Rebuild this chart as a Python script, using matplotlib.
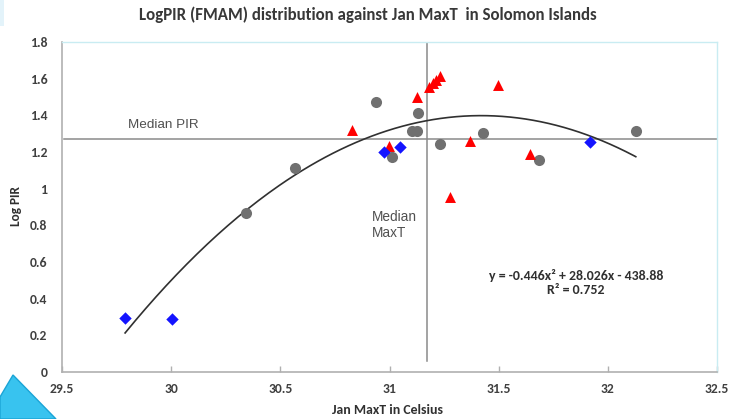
import numpy as np
import matplotlib
matplotlib.use("Agg")
import matplotlib.pyplot as plt
from matplotlib.patches import Polygon
from matplotlib import font_manager

# --- data -----------------------------------------------------------------
gray_x = [30.344, 30.569, 30.936, 31.012, 31.104, 31.124, 31.132, 31.231, 31.43, 31.685, 32.128]
gray_y = [0.867, 1.111, 1.475, 1.175, 1.315, 1.315, 1.41, 1.242, 1.306, 1.157, 1.315]

red_x = [30.826, 30.997, 31.127, 31.18, 31.197, 31.215, 31.231, 31.275, 31.368, 31.499, 31.642]
red_y = [1.32, 1.235, 1.50, 1.555, 1.575, 1.595, 1.615, 0.953, 1.262, 1.565, 1.19]

blue_x = [29.789, 30.005, 30.974, 31.046, 31.92]
blue_y = [0.295, 0.289, 1.202, 1.225, 1.255]

# quadratic trend: y = a x^2 + b x + c
trend_a, trend_b, trend_c = -0.446, 28.026, -438.88
r_squared = 0.752

median_pir = 1.27
median_maxt = 31.173

x_ticks = [29.5, 30, 30.5, 31, 31.5, 32, 32.5]
y_ticks = [0, 0.2, 0.4, 0.6, 0.8, 1, 1.2, 1.4, 1.6, 1.8]
y_tick_labels = ["0", "0.2", "0.4", "0.6", "0.8", "1", "1.2", "1.4", "1.6", "1.8"]

title = "LogPIR (FMAM) distribution against Jan MaxT  in Solomon Islands"
x_label = "Jan MaxT in Celsius"
y_label = "Log PIR"

# --- fonts ----------------------------------------------------------------
available = {f.name for f in font_manager.fontManager.ttflist}
narrow = next((f for f in ["Carlito", "Liberation Sans Narrow", "Open Sans", "Liberation Sans"]
               if f in available), "DejaVu Sans")
plain = "Liberation Sans" if "Liberation Sans" in available else "DejaVu Sans"

W, H = 729, 419
fig = plt.figure(figsize=(W / 100, H / 100), dpi=100)
fig.patch.set_facecolor("white")

L, R, T, B = 62, 717, 42, 372
ax = fig.add_axes([L / W, 1 - B / H, (R - L) / W, (B - T) / H])

ax.set_xlim(29.5, 32.5)
ax.set_ylim(0, 1.8)

# median reference lines
ax.plot([29.51, 32.5], [median_pir, median_pir], color="#8a8a8a", lw=1.1, zorder=1)
ax.plot([median_maxt, median_maxt], [0.06, 1.8], color="#8a8a8a", lw=1.1, zorder=1)

# trend curve across the data range
all_x = gray_x + red_x + blue_x
xs = np.linspace(min(all_x), max(all_x), 200)
ax.plot(xs, trend_a * xs ** 2 + trend_b * xs + trend_c, color="#303030", lw=1.2, zorder=2)

ax.scatter(gray_x, gray_y, s=64, marker="o", color="#707070", zorder=3, linewidths=0)
ax.scatter(red_x, red_y, s=62, marker="^", color="#ff0000", zorder=4, linewidths=0)
ax.scatter(blue_x, blue_y, s=40, marker="D", color="#1414ff", zorder=5, linewidths=0)

# frame
for side in ["left", "bottom"]:
    ax.spines[side].set_color("#b0b0b0")
    ax.spines[side].set_linewidth(1.2)
for side in ["top", "right"]:
    ax.spines[side].set_color("#c9ecf2")
    ax.spines[side].set_linewidth(1.0)

ax.set_xticks(x_ticks)
ax.set_xticklabels([str(v) for v in x_ticks])
ax.set_yticks(y_ticks)
ax.set_yticklabels(y_tick_labels)
ax.tick_params(axis="x", direction="in", length=4, width=1, color="#b0b0b0", pad=8)
ax.tick_params(axis="y", length=0, pad=10.5)
for lab in ax.get_xticklabels() + ax.get_yticklabels():
    lab.set_fontfamily(narrow)
    lab.set_fontweight("bold")
    lab.set_fontsize(9.8)
    lab.set_color("#404040")

fig.text(368 / W, 1 - 15 / H, title, ha="center", va="center",
         fontfamily=narrow, fontweight="bold", fontsize=12.2, color="#383838")
fig.text(388 / W, 1 - 410 / H, x_label, ha="center", va="center",
         fontfamily=narrow, fontweight="bold", fontsize=10, color="#303030")
fig.text(16 / W, 1 - 206 / H, y_label, ha="center", va="center", rotation=90,
         fontfamily=narrow, fontweight="bold", fontsize=9.5, color="#303030")

ax.text(29.803, 1.345, "Median PIR", ha="left", va="center",
        fontfamily=plain, fontsize=9.7, color="#505050")
ax.text(30.917, 0.80, "Median\nMaxT", ha="left", va="center",
        fontfamily=plain, fontsize=9.8, color="#505050", linespacing=1.2)

ax.text(31.853, 0.488, "y = -0.446x\u00b2 + 28.026x - 438.88\nR\u00b2 = %.3f" % r_squared,
        ha="center", va="center", fontfamily=narrow, fontweight="bold",
        fontsize=10, color="#303030", linespacing=1.25)

# slide decoration in the lower-left corner
fig.patches.append(Polygon([(13 / W, 1 - 375 / H), (0, 1 - 397 / H), (0, 0), (56 / W, 0)],
                           closed=True, transform=fig.transFigure,
                           facecolor="#38c3ef", edgecolor="#1aa4d6", lw=1, zorder=0))
fig.patches.append(Polygon([(0, 1), (4 / W, 1), (4 / W, 1 - 26 / H), (0, 1 - 26 / H)],
                           closed=True, transform=fig.transFigure,
                           facecolor="#e3f3fa", edgecolor="none", zorder=0))

fig.savefig("out.png", dpi=100)
